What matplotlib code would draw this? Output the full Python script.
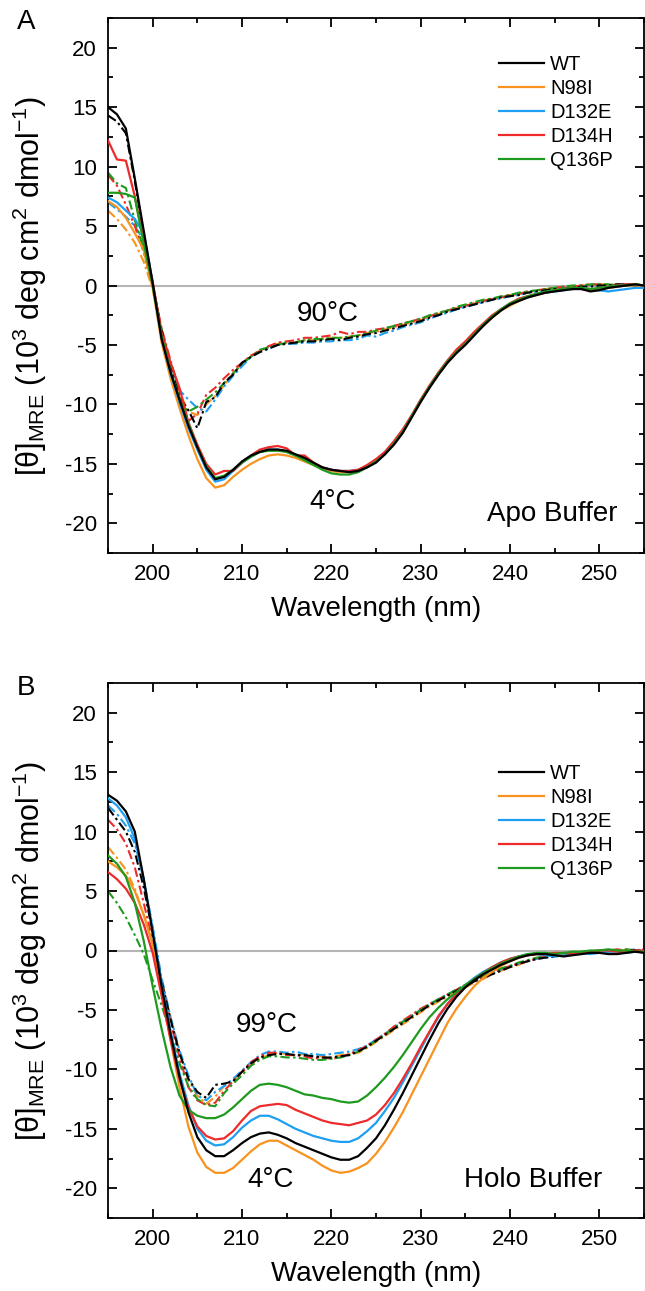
import numpy as np
import matplotlib
matplotlib.use("Agg")
import matplotlib.pyplot as plt
from matplotlib.ticker import MultipleLocator

plt.rcParams['font.family'] = ['Liberation Sans', 'DejaVu Sans']
plt.rcParams['mathtext.fontset'] = 'custom'
plt.rcParams['mathtext.rm'] = 'Liberation Sans'
plt.rcParams['mathtext.it'] = 'Liberation Sans:italic'
plt.rcParams['mathtext.bf'] = 'Liberation Sans:bold'
plt.rcParams['axes.unicode_minus'] = False

# ---------------- data ----------------
wavelength = np.arange(195, 256)  # nm, 1 nm steps

variants = ["WT", "N98I", "D132E", "D134H", "Q136P"]
colors = ["#000000", "#F7931E", "#1E9FF2", "#EE2A2A", "#1E9A1E"]

# Panel A (Apo buffer) 4 C
A_WT_4 = [15.0, 14.4, 13.2, 9.0, 4.6, 0.2, -4.5, -7.3, -9.6, -11.8,
          -13.6, -15.3, -16.3, -16.1, -15.5, -14.8, -14.3, -14.0, -13.8, -13.8,
          -13.9, -14.2, -14.5, -14.9, -15.3, -15.5, -15.6, -15.7, -15.6, -15.3,
          -14.9, -14.2, -13.4, -12.4, -11.1, -9.8, -8.6, -7.5, -6.5, -5.7,
          -5.0, -4.2, -3.4, -2.7, -2.1, -1.6, -1.3, -1.0, -0.8, -0.6,
          -0.5, -0.4, -0.3, -0.3, -0.5, -0.4, -0.2, -0.1, 0.0, 0.1,
          0.0]
A_N98I_4 = [7.1, 6.6, 5.7, 4.4, 3.0, -0.2, -4.8, -7.8, -10.3, -12.6,
            -14.6, -16.2, -17.0, -16.8, -16.1, -15.5, -15.0, -14.6, -14.3, -14.2,
            -14.3, -14.5, -14.8, -15.1, -15.4, -15.6, -15.7, -15.7, -15.6, -15.3,
            -14.8, -14.1, -13.3, -12.3, -11.0, -9.7, -8.5, -7.4, -6.5, -5.6,
            -4.9, -4.1, -3.4, -2.7, -2.1, -1.7, -1.3, -1.0, -0.8, -0.6,
            -0.4, -0.3, -0.3, -0.2, -0.3, -0.3, -0.2, -0.1, 0.0, 0.0,
            -0.1]
A_D132E_4 = [7.4, 7.0, 6.3, 5.6, 4.4, 0.3, -4.4, -7.4, -9.8, -12.0,
             -13.8, -15.5, -16.5, -16.3, -15.6, -14.9, -14.4, -14.0, -13.8, -13.8,
             -14.0, -14.3, -14.6, -15.0, -15.3, -15.5, -15.6, -15.6, -15.5, -15.2,
             -14.7, -14.0, -13.2, -12.2, -11.0, -9.7, -8.5, -7.4, -6.4, -5.6,
             -4.9, -4.1, -3.3, -2.6, -2.0, -1.6, -1.2, -1.0, -0.7, -0.6,
             -0.5, -0.4, -0.3, -0.2, -0.3, -0.4, -0.5, -0.4, -0.3, -0.2,
             -0.2]
A_D134H_4 = [12.2, 10.6, 10.5, 7.5, 3.8, 0.3, -4.0, -6.5, -8.6, -11.5,
             -13.4, -15.0, -15.9, -15.6, -15.6, -14.9, -14.3, -13.8, -13.6, -13.5,
             -13.7, -14.3, -14.3, -14.9, -15.3, -15.5, -15.6, -15.6, -15.5, -15.1,
             -14.6, -14.0, -13.1, -12.1, -10.9, -9.6, -8.4, -7.3, -6.3, -5.4,
             -4.7, -3.9, -3.2, -2.5, -2.0, -1.5, -1.1, -0.9, -0.7, -0.6,
             -0.4, -0.3, -0.2, -0.3, -0.4, -0.2, -0.1, 0.0, 0.1, 0.1,
             0.0]
A_Q136P_4 = [7.8, 7.8, 7.7, 7.4, 3.5, 0.0, -4.3, -7.2, -9.5, -11.6,
             -13.6, -15.2, -16.2, -16.0, -15.5, -14.9, -14.4, -14.0, -13.9, -13.9,
             -14.0, -14.3, -14.7, -15.1, -15.5, -15.8, -15.9, -15.9, -15.7, -15.3,
             -14.8, -14.2, -13.3, -12.3, -11.0, -9.7, -8.5, -7.4, -6.4, -5.6,
             -4.9, -4.1, -3.3, -2.6, -2.0, -1.5, -1.2, -0.9, -0.7, -0.5,
             -0.4, -0.3, -0.2, -0.2, -0.3, -0.2, -0.1, 0.0, 0.0, 0.1,
             0.0]

# Panel A (Apo buffer) 90 C
A_WT_90 = [14.3, 13.8, 12.8, 8.8, 4.3, 0.0, -3.8, -6.8, -9.4, -10.5,
           -12.0, -9.8, -9.4, -8.2, -7.5, -6.5, -6.0, -5.6, -5.3, -5.0,
           -4.9, -4.8, -4.7, -4.7, -4.6, -4.5, -4.6, -4.4, -4.3, -4.1,
           -4.0, -3.8, -3.6, -3.4, -3.2, -3.0, -2.7, -2.5, -2.2, -2.0,
           -1.8, -1.6, -1.4, -1.2, -1.0, -0.9, -0.8, -0.6, -0.5, -0.4,
           -0.3, -0.3, -0.2, -0.1, -0.1, 0.0, 0.0, 0.1, 0.1, 0.0,
           0.0]
A_N98I_90 = [6.3, 5.6, 4.7, 3.6, 2.0, -0.3, -3.9, -6.9, -9.0, -10.6,
             -10.9, -10.0, -9.3, -8.4, -7.4, -6.6, -5.9, -5.5, -5.1, -4.9,
             -4.8, -4.8, -4.6, -4.6, -4.5, -4.4, -4.4, -4.3, -4.2, -4.0,
             -3.9, -3.7, -3.5, -3.3, -3.1, -2.9, -2.6, -2.4, -2.1, -1.9,
             -1.7, -1.5, -1.3, -1.2, -1.0, -0.8, -0.7, -0.6, -0.4, -0.3,
             -0.2, -0.2, -0.1, 0.0, 0.0, 0.1, 0.1, 0.0, 0.0, 0.1,
             0.0]
A_D132E_90 = [7.0, 6.4, 5.8, 5.0, 3.8, 0.2, -3.9, -6.5, -8.8, -9.6,
              -10.3, -10.6, -9.6, -8.5, -7.6, -6.8, -6.0, -5.6, -5.3, -5.0,
              -4.9, -4.9, -4.8, -4.8, -4.7, -4.7, -4.6, -4.6, -4.5, -4.2,
              -4.3, -4.0, -3.8, -3.5, -3.3, -3.1, -2.8, -2.5, -2.3, -2.0,
              -1.8, -1.6, -1.4, -1.2, -1.1, -0.9, -0.8, -0.6, -0.5, -0.4,
              -0.3, -0.2, -0.2, -0.1, 0.0, 0.0, -0.1, -0.1, 0.0, 0.0,
              -0.1]
A_D134H_90 = [9.3, 8.4, 6.8, 5.0, 2.8, 0.0, -3.6, -6.3, -8.9, -11.4,
              -10.8, -9.2, -8.6, -7.8, -7.1, -6.5, -5.9, -5.5, -5.1, -4.8,
              -4.7, -4.6, -4.4, -4.4, -4.3, -4.2, -3.9, -4.1, -3.9, -3.9,
              -3.7, -3.6, -3.4, -3.2, -3.0, -2.8, -2.6, -2.3, -2.1, -1.9,
              -1.7, -1.5, -1.3, -1.1, -1.0, -0.8, -0.7, -0.5, -0.4, -0.3,
              -0.2, -0.1, -0.1, 0.0, 0.1, 0.1, 0.0, 0.1, 0.1, 0.0,
              0.0]
A_Q136P_90 = [9.5, 8.6, 8.2, 5.5, 3.0, 0.0, -3.7, -6.6, -9.8, -10.6,
              -10.2, -9.6, -9.0, -8.2, -7.4, -6.6, -6.0, -5.4, -5.2, -5.0,
              -4.8, -4.8, -4.6, -4.5, -4.5, -4.4, -4.4, -4.3, -4.2, -4.0,
              -3.8, -3.6, -3.4, -3.2, -3.0, -2.8, -2.5, -2.3, -2.1, -1.8,
              -1.6, -1.4, -1.2, -1.1, -0.9, -0.8, -0.6, -0.5, -0.4, -0.3,
              -0.2, -0.1, 0.0, 0.0, 0.1, 0.1, 0.1, 0.0, 0.1, 0.1,
              0.0]

# Panel B (Holo buffer) 4 C
B_WT_4 = [13.1, 12.6, 11.7, 10.0, 6.0, 1.5, -3.0, -7.0, -10.6, -13.6,
          -15.7, -16.8, -17.3, -17.3, -16.8, -16.2, -15.7, -15.4, -15.3, -15.5,
          -15.8, -16.2, -16.5, -16.8, -17.1, -17.4, -17.6, -17.6, -17.3, -16.6,
          -15.8, -14.7, -13.4, -12.0, -10.5, -9.0, -7.5, -6.1, -4.9, -3.9,
          -3.1, -2.5, -2.0, -1.6, -1.2, -0.9, -0.6, -0.4, -0.3, -0.3,
          -0.4, -0.5, -0.4, -0.3, -0.2, -0.2, -0.3, -0.3, -0.2, -0.1,
          -0.2]
B_N98I_4 = [7.5, 7.0, 6.3, 5.0, 3.0, 0.5, -3.5, -7.5, -11.5, -14.8,
            -17.0, -18.2, -18.7, -18.7, -18.3, -17.6, -16.9, -16.3, -16.0, -16.0,
            -16.4, -16.8, -17.2, -17.6, -18.1, -18.5, -18.7, -18.6, -18.3, -17.9,
            -17.1, -16.1, -14.9, -13.6, -12.1, -10.6, -9.1, -7.6, -6.1, -4.9,
            -3.9, -3.0, -2.3, -1.8, -1.3, -0.9, -0.6, -0.4, -0.3, -0.3,
            -0.3, -0.4, -0.3, -0.2, -0.2, -0.1, -0.1, 0.0, 0.0, -0.1,
            -0.1]
B_D132E_4 = [12.8, 12.2, 11.2, 9.4, 6.0, 1.8, -2.8, -6.8, -10.3, -13.0,
             -15.0, -16.0, -16.4, -16.3, -15.7, -14.9, -14.3, -13.9, -13.9, -14.2,
             -14.6, -15.0, -15.3, -15.6, -15.8, -16.0, -16.1, -16.1, -15.8, -15.2,
             -14.5, -13.5, -12.4, -11.1, -9.7, -8.3, -6.9, -5.6, -4.5, -3.6,
             -2.9, -2.3, -1.8, -1.4, -1.0, -0.7, -0.5, -0.3, -0.3, -0.4,
             -0.5, -0.4, -0.3, -0.2, -0.3, -0.2, -0.1, -0.1, -0.2, -0.1,
             -0.1]
B_D134H_4 = [6.6, 6.0, 5.2, 4.0, 2.2, -0.2, -3.8, -7.5, -10.8, -13.2,
             -14.8, -15.6, -15.9, -15.8, -15.2, -14.3, -13.5, -13.1, -13.0, -12.9,
             -13.0, -13.4, -13.7, -14.0, -14.3, -14.5, -14.6, -14.7, -14.5, -14.3,
             -13.8, -13.0, -12.0, -10.8, -9.5, -8.1, -6.8, -5.5, -4.5, -3.7,
             -3.0, -2.4, -1.9, -1.4, -1.0, -0.7, -0.5, -0.4, -0.3, -0.3,
             -0.2, -0.2, -0.3, -0.2, -0.1, 0.0, 0.0, -0.1, -0.1, 0.0,
             0.0]
B_Q136P_4 = [8.0, 7.3, 6.2, 4.0, 0.8, -3.0, -6.6, -9.8, -12.2, -13.4,
             -13.9, -14.1, -14.1, -13.8, -13.2, -12.5, -11.8, -11.3, -11.2, -11.3,
             -11.5, -11.8, -12.1, -12.2, -12.4, -12.5, -12.7, -12.8, -12.7, -12.2,
             -11.5, -10.7, -9.8, -8.8, -7.7, -6.6, -5.6, -4.8, -4.1, -3.5,
             -2.9, -2.4, -1.9, -1.5, -1.1, -0.8, -0.5, -0.3, -0.2, -0.2,
             -0.3, -0.2, -0.1, -0.1, 0.0, 0.0, 0.1, 0.0, 0.0, -0.1,
             -0.1]

# Panel B (Holo buffer) 99 C
B_WT_99 = [12.0, 11.0, 10.0, 8.3, 5.3, 1.5, -2.6, -5.8, -8.6, -10.8,
           -11.9, -12.4, -11.3, -11.2, -11.0, -10.2, -9.5, -9.0, -8.8, -8.7,
           -8.7, -8.8, -8.8, -8.9, -9.0, -9.0, -8.9, -8.8, -8.5, -8.1,
           -7.6, -7.1, -6.6, -6.1, -5.6, -5.1, -4.6, -4.2, -3.8, -3.4,
           -3.0, -2.6, -2.3, -2.0, -1.7, -1.4, -1.1, -0.9, -0.7, -0.6,
           -0.5, -0.4, -0.3, -0.3, -0.2, -0.1, -0.1, 0.0, 0.0, 0.0,
           -0.1]
B_N98I_99 = [8.7, 7.8, 6.8, 5.2, 3.0, 0.6, -2.5, -5.6, -8.6, -10.9,
             -12.2, -12.9, -12.3, -11.4, -10.9, -10.3, -9.6, -9.1, -8.8, -8.6,
             -8.7, -8.8, -8.7, -8.9, -8.9, -9.0, -8.8, -8.7, -8.6, -8.2,
             -7.7, -7.2, -6.7, -6.2, -5.7, -5.2, -4.7, -4.3, -3.9, -3.5,
             -3.1, -2.7, -2.4, -2.0, -1.7, -1.4, -1.2, -0.9, -0.7, -0.6,
             -0.4, -0.3, -0.3, -0.2, -0.1, -0.1, 0.0, 0.0, 0.1, 0.0,
             0.0]
B_D132E_99 = [12.2, 11.5, 10.5, 9.0, 6.0, 2.0, -2.3, -5.6, -8.4, -10.5,
              -12.2, -12.6, -11.9, -11.4, -10.8, -10.1, -9.4, -8.8, -8.5, -8.5,
              -8.6, -8.5, -8.7, -8.7, -8.8, -8.7, -8.6, -8.5, -8.3, -8.0,
              -7.5, -7.0, -6.5, -6.0, -5.5, -5.0, -4.6, -4.1, -3.7, -3.3,
              -2.9, -2.6, -2.2, -1.9, -1.6, -1.3, -1.1, -0.9, -0.7, -0.6,
              -0.5, -0.4, -0.3, -0.2, -0.2, -0.1, 0.0, 0.0, 0.0, 0.1,
              0.0]
B_D134H_99 = [11.0, 10.2, 9.0, 7.0, 4.0, 0.8, -2.8, -6.0, -9.0, -11.5,
              -12.6, -13.0, -12.8, -11.8, -11.0, -10.2, -9.4, -8.9, -8.6, -8.6,
              -8.8, -8.8, -8.9, -9.1, -9.0, -9.1, -9.0, -8.7, -8.4, -8.0,
              -7.5, -7.0, -6.4, -5.9, -5.4, -4.9, -4.5, -4.1, -3.7, -3.3,
              -2.9, -2.5, -2.2, -1.9, -1.6, -1.3, -1.1, -0.9, -0.7, -0.5,
              -0.4, -0.3, -0.2, -0.2, -0.1, 0.0, 0.0, 0.1, 0.0, 0.0,
              0.1]
B_Q136P_99 = [5.0, 4.0, 2.8, 1.3, -0.3, -2.5, -4.6, -7.0, -9.5, -11.4,
              -12.5, -13.0, -13.1, -12.0, -11.2, -10.5, -9.7, -9.2, -8.9, -8.9,
              -9.0, -9.0, -9.1, -9.2, -9.2, -9.1, -9.0, -8.8, -8.5, -8.1,
              -7.6, -7.1, -6.5, -6.0, -5.5, -5.0, -4.5, -4.1, -3.7, -3.3,
              -2.9, -2.5, -2.2, -1.8, -1.5, -1.3, -1.0, -0.8, -0.6, -0.5,
              -0.4, -0.3, -0.2, -0.1, -0.1, 0.0, 0.0, 0.0, 0.1, 0.0,
              0.0]

x_ticks = [200, 210, 220, 230, 240, 250]
y_ticks = [-20, -15, -10, -5, 0, 5, 10, 15, 20]

panels = [
    dict(label="A", cold=[A_WT_4, A_N98I_4, A_D132E_4, A_D134H_4, A_Q136P_4],
         hot=[A_WT_90, A_N98I_90, A_D132E_90, A_D134H_90, A_Q136P_90],
         hot_text="90°C", hot_pos=(219.6, -2.4), cold_text="4°C", cold_pos=(220.2, -18.2),
         buffer="Apo Buffer", buffer_pos=(244.7, -19.2), leg_y=0.931),
    dict(label="B", cold=[B_WT_4, B_N98I_4, B_D132E_4, B_D134H_4, B_Q136P_4],
         hot=[B_WT_99, B_N98I_99, B_D132E_99, B_D134H_99, B_Q136P_99],
         hot_text="99°C", hot_pos=(212.8, -6.3), cold_text="4°C", cold_pos=(213.2, -19.3),
         buffer="Holo Buffer", buffer_pos=(242.6, -19.3), leg_y=0.848),
]

W, H = 645, 1291
fig = plt.figure(figsize=(W / 100, H / 100), dpi=100)
axes_px = [(108, 18, 644, 553), (108, 683, 644, 1218)]
label_px = [(26, 22), (26, 688)]

dashdot = (0, (4.5, 1.6, 1.2, 1.6))

for p, (l, t, r, b), (lx, ly) in zip(panels, axes_px, label_px):
    ax = fig.add_axes([l / W, 1 - b / H, (r - l) / W, (b - t) / H])
    ax.axhline(0, color="#b5b5b5", lw=1.5, zorder=1)
    order = [1, 2, 3, 4, 0]
    for i in order:
        ax.plot(wavelength, p["hot"][i], color=colors[i], lw=1.5,
                linestyle=dashdot, zorder=2)
    handles = {}
    for i in order:
        h, = ax.plot(wavelength, p["cold"][i], color=colors[i], lw=1.6,
                     zorder=3, label=variants[i])
        handles[i] = h
    ax.set_xlim(195, 255)
    ax.set_ylim(-22.5, 22.5)
    ax.set_xticks(x_ticks)
    ax.set_yticks(y_ticks)
    ax.xaxis.set_minor_locator(MultipleLocator(5))
    ax.yaxis.set_minor_locator(MultipleLocator(2.5))
    ax.tick_params(which="both", direction="in", top=True, right=True,
                   width=1.3, labelsize=16)
    ax.tick_params(which="major", length=6.5)
    ax.tick_params(which="minor", length=3.5)
    ax.tick_params(axis="x", pad=8)
    ax.tick_params(axis="y", pad=8)
    for s in ax.spines.values():
        s.set_linewidth(1.3)
    ax.set_xlabel("Wavelength (nm)", fontsize=20, labelpad=8)
    ax.set_ylabel(r"[θ]$_{\mathrm{MRE}}$ (10$^{3}$ deg cm$^{2}$ dmol$^{-1}$)",
                  fontsize=22)
    ax.yaxis.set_label_coords(-0.110, 0.5)
    ax.text(*p["hot_pos"], p["hot_text"], fontsize=20, ha="center", va="center")
    ax.text(*p["cold_pos"], p["cold_text"], fontsize=20, ha="center", va="center")
    ax.text(*p["buffer_pos"], p["buffer"], fontsize=20, ha="center", va="center")
    leg = ax.legend([handles[i] for i in range(5)], variants, loc="upper left",
                    bbox_to_anchor=(0.729, p["leg_y"]), frameon=False,
                    fontsize=14.5, handlelength=2.25, handletextpad=0.3,
                    labelspacing=0.25, borderpad=0, borderaxespad=0)
    fig.text(lx / W, 1 - ly / H, p["label"], fontsize=20, ha="center", va="center")

fig.savefig("out.png", dpi=100)
